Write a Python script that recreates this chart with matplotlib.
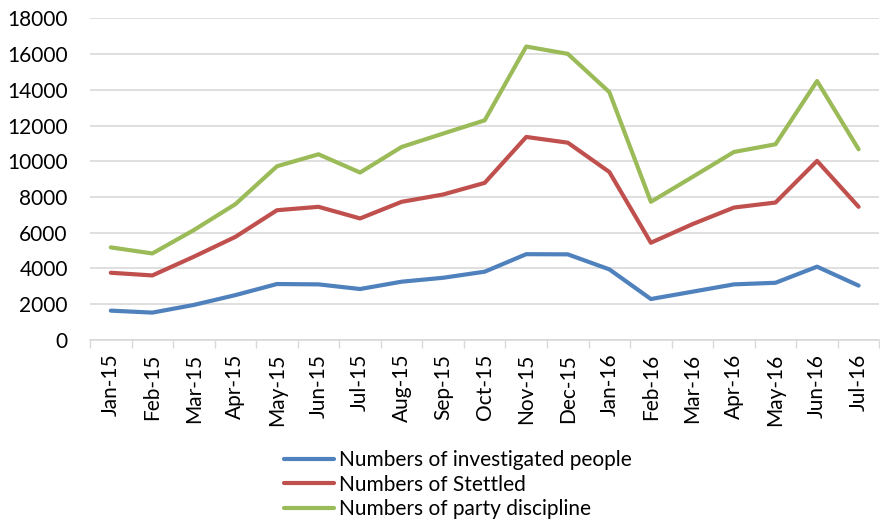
import numpy as np
import matplotlib.pyplot as plt

months = ['Jan-15', 'Feb-15', 'Mar-15', 'Apr-15', 'May-15', 'Jun-15', 'Jul-15',
          'Aug-15', 'Sep-15', 'Oct-15', 'Nov-15', 'Dec-15', 'Jan-16', 'Feb-16',
          'Mar-16', 'Apr-16', 'May-16', 'Jun-16', 'Jul-16']
investigated = [1640, 1530, 1960, 2510, 3130, 3110, 2850, 3260, 3480, 3820,
                4800, 4790, 3950, 2290, 2700, 3110, 3200, 4100, 3040]
settled = [3760, 3610, 4660, 5770, 7260, 7450, 6800, 7730, 8140, 8790,
           11360, 11040, 9400, 5440, 6480, 7410, 7690, 10020, 7450]
discipline = [5180, 4840, 6150, 7600, 9720, 10390, 9370, 10800, 11550, 12290,
              16420, 16010, 13870, 7730, 9120, 10520, 10950, 14490, 10670]

plt.rcParams['font.family'] = ['Lato', 'DejaVu Sans']

fig = plt.figure(figsize=(8.8, 5.23), dpi=100)
ax = fig.add_axes([0.1023, 0.35, 0.897, 0.615])

x = np.arange(len(months))
ax.plot(x, investigated, color='#4F81BD', lw=3, solid_capstyle='round', label='Numbers of investigated people')
ax.plot(x, settled, color='#C0504D', lw=3, solid_capstyle='round', label='Numbers of Stettled')
ax.plot(x, discipline, color='#9BBB59', lw=3, solid_capstyle='round', label='Numbers of party discipline')

ax.set_xlim(-0.5, len(months) - 0.5)
ax.set_ylim(0, 18000)
ax.set_yticks(range(0, 18001, 2000))
ax.set_xticks(x)
ax.set_xticklabels(months, rotation=90)
ax.set_xticks(np.arange(-0.5, len(months)), minor=True)
ax.tick_params(axis='x', which='major', length=0, pad=10, labelsize=15)
ax.tick_params(axis='x', which='minor', length=6, color='#d9d9d9', width=1)
ax.tick_params(axis='y', length=0, pad=16, labelsize=15)

ax.grid(axis='y', color='#d9d9d9', lw=1.2)
ax.set_axisbelow(True)
for s in ['top', 'right', 'left']:
    ax.spines[s].set_visible(False)
ax.spines['bottom'].set_color('#d9d9d9')
ax.spines['bottom'].set_linewidth(1.2)

fig.legend(loc='lower left', bbox_to_anchor=(0.318, 0.0), frameon=False,
           fontsize=15, handlelength=2.4, handletextpad=0.25,
           labelspacing=0.2, borderaxespad=0.1, borderpad=0.1)

fig.savefig('out.png', dpi=100)
